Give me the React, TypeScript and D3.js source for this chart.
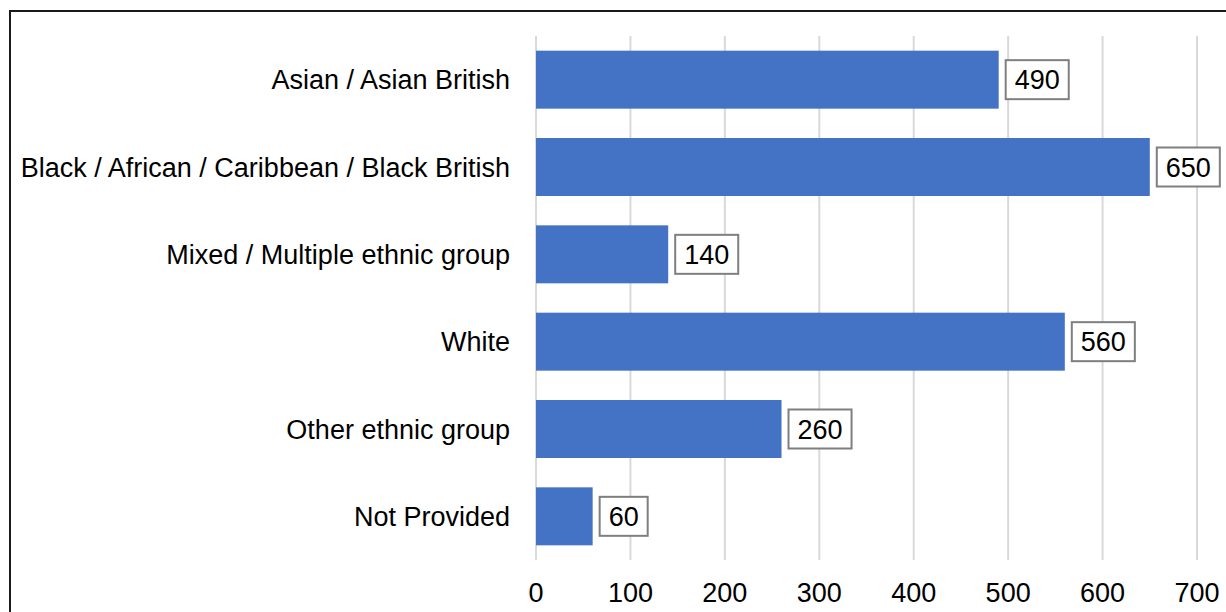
import React from "react";
import * as d3 from "d3";

const categories = [
  "Asian / Asian British",
  "Black / African / Caribbean / Black British",
  "Mixed / Multiple ethnic group",
  "White",
  "Other ethnic group",
  "Not Provided",
];
const values = [490, 650, 140, 560, 260, 60];
const xTicks = [0, 100, 200, 300, 400, 500, 600, 700];

const W = 1226;
const H = 612;
const FONT = "Arial, 'Liberation Sans', sans-serif";
const FS = 27;

export default function App() {
  const x = d3.scaleLinear().domain([0, 700]).range([536, 1197]);
  const pad = 0.336;
  const y = d3
    .scaleBand<string>()
    .domain(categories)
    .range([36, 560])
    .paddingInner(pad)
    .paddingOuter(pad / 2);

  const charW = 0.556 * FS;

  return (
    <svg
      width={W}
      height={H}
      style={{ position: "absolute", left: 0, top: 0, background: "#fff" }}
    >
      <rect x={0} y={0} width={W} height={H} fill="#fff" />
      <rect
        x={10}
        y={11}
        width={W + 20}
        height={H + 20}
        fill="none"
        stroke="#1a1a1a"
        strokeWidth={2}
      />
      {xTicks.map((t) => (
        <line
          key={"g" + t}
          x1={x(t)}
          x2={x(t)}
          y1={36}
          y2={560}
          stroke="#d9d9d9"
          strokeWidth={2}
        />
      ))}
      {xTicks.map((t) => (
        <text
          key={"t" + t}
          x={x(t)}
          y={602}
          textAnchor="middle"
          fontFamily={FONT}
          fontSize={FS}
          fill="#000"
        >
          {t}
        </text>
      ))}
      {categories.map((c, i) => {
        const by = y(c)!;
        const bh = y.bandwidth();
        const cy = by + bh / 2;
        const x0 = x(0);
        const x1 = x(values[i]);
        const label = String(values[i]);
        const tw = label.length * charW;
        const boxW = tw + 18;
        const boxH = 39;
        const boxX = x1 + 7;
        return (
          <g key={c}>
            <text
              x={510}
              y={cy + 9.5}
              textAnchor="end"
              fontFamily={FONT}
              fontSize={FS}
              fill="#000"
            >
              {c}
            </text>
            <rect x={x0} y={by} width={x1 - x0} height={bh} fill="#4472C4" />
            <rect
              x={boxX}
              y={cy - boxH / 2}
              width={boxW}
              height={boxH}
              fill="#fff"
              stroke="#7f7f7f"
              strokeWidth={2}
            />
            <text
              x={boxX + boxW / 2}
              y={cy + 9.5}
              textAnchor="middle"
              fontFamily={FONT}
              fontSize={FS}
              fill="#000"
            >
              {label}
            </text>
          </g>
        );
      })}
    </svg>
  );
}
